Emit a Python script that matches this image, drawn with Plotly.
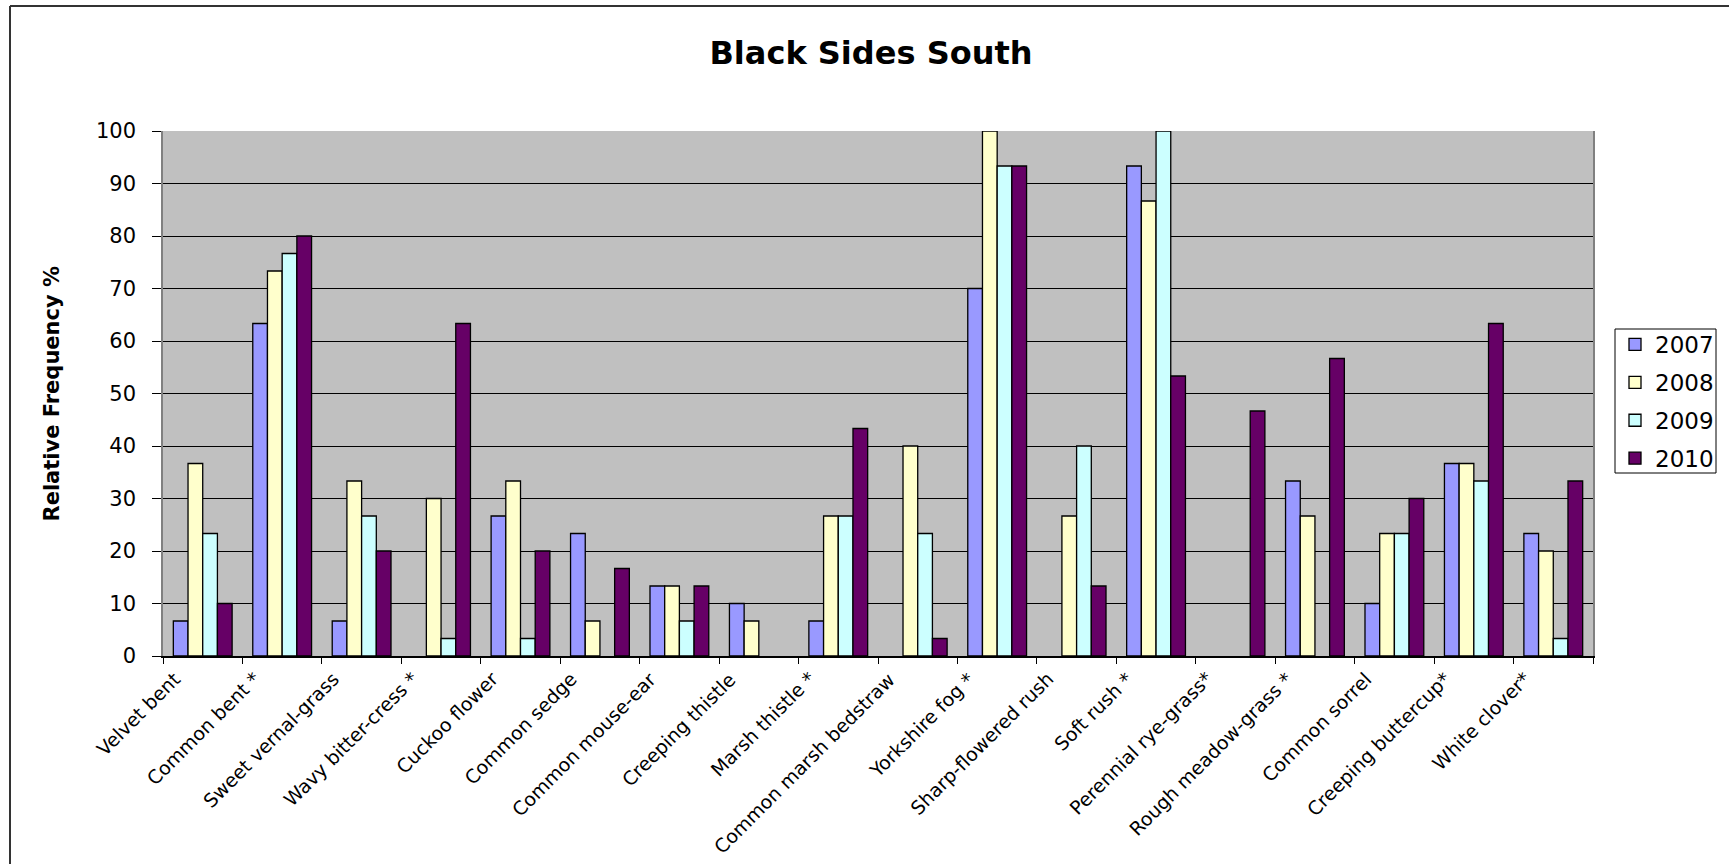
import plotly.graph_objects as go

# Species surveyed (x categories)
species = [
    "Velvet bent", "Common bent *", "Sweet vernal-grass", "Wavy bitter-cress *",
    "Cuckoo flower", "Common sedge", "Common mouse-ear", "Creeping thistle",
    "Marsh thistle *", "Common marsh bedstraw", "Yorkshire fog *",
    "Sharp-flowered rush", "Soft rush *", "Perennial rye-grass*",
    "Rough meadow-grass *", "Common sorrel", "Creeping buttercup*", "White clover*",
]

# Relative frequency (%) per survey year
freq_2007 = [6.67, 63.33, 6.67, 0, 26.67, 23.33, 13.33, 10, 6.67, 0, 70, 0, 93.33, 0, 33.33, 10, 36.67, 23.33]
freq_2008 = [36.67, 73.33, 33.33, 30, 33.33, 6.67, 13.33, 6.67, 26.67, 40, 100, 26.67, 86.67, 0, 26.67, 23.33, 36.67, 20]
freq_2009 = [23.33, 76.67, 26.67, 3.33, 3.33, 0, 6.67, 0, 26.67, 23.33, 93.33, 40, 100, 0, 0, 23.33, 33.33, 3.33]
freq_2010 = [10, 80, 20, 63.33, 20, 16.67, 13.33, 0, 43.33, 3.33, 93.33, 13.33, 53.33, 46.67, 56.67, 30, 63.33, 33.33]

years = ["2007", "2008", "2009", "2010"]
series = [freq_2007, freq_2008, freq_2009, freq_2010]
colors = ["#9999FF", "#FFFFCC", "#CCFFFF", "#660066"]

y_ticks = [0, 10, 20, 30, 40, 50, 60, 70, 80, 90, 100]

FONT = "DejaVu Sans"

# Plot-area geometry in pixels
W, H = 1729, 864
L, R, T, B = 163, 1593, 131, 656


def px_x(px):
    return (px - L) / (R - L)


def px_y(py):
    return (B - py) / (B - T)


fig = go.Figure()
for yr, vals, col in zip(years, series, colors):
    fig.add_trace(go.Bar(
        name=yr,
        x=species,
        # species not recorded that year get no bar at all
        y=[v if v > 0 else None for v in vals],
        legendgroup=yr,
        marker=dict(color=col, line=dict(color="black", width=1.3)),
    ))

# Rotated category labels below the axis
annotations = []
for i, name in enumerate(species):
    annotations.append(dict(
        x=i - 0.2, xref="x",
        y=0, yref="paper",
        yshift=-9,
        text=name, textangle=-45,
        xanchor="right", yanchor="top",
        showarrow=False,
        font=dict(family=FONT, size=19, color="black"),
    ))

# Vertical axis title
annotations.append(dict(
    x=px_x(51), xref="paper", y=0.5, yref="paper",
    text="<b>Relative Frequency %</b>", textangle=-90,
    xanchor="center", yanchor="middle", showarrow=False,
    font=dict(family=FONT, size=21, color="black"),
))

# Outer chart frame (top and left edges) and the legend box
frame = dict(color="#333333", width=2)
shapes = [
    dict(type="line", xref="paper", yref="paper",
         x0=px_x(10), x1=px_x(W + 5), y0=px_y(6), y1=px_y(6), line=frame),
    dict(type="line", xref="paper", yref="paper",
         x0=px_x(10), x1=px_x(10), y0=px_y(6), y1=px_y(H + 5), line=frame),
    dict(type="rect", xref="paper", yref="paper",
         x0=px_x(1615), x1=px_x(1716), y0=px_y(329), y1=px_y(473),
         line=dict(color="black", width=1), fillcolor="white", layer="below"),
]

fig.update_layout(
    width=W, height=H,
    margin=dict(l=L, r=W - R, t=T, b=H - B, autoexpand=False),
    paper_bgcolor="white",
    plot_bgcolor="#C0C0C0",
    barmode="group",
    bargap=0.26,
    bargroupgap=0,
    font=dict(family=FONT, color="black"),
    title=dict(
        text="<b>Black Sides South</b>",
        x=871 / W, xref="container", xanchor="center",
        y=1 - 53 / H, yref="container", yanchor="middle",
        font=dict(family=FONT, size=32, color="black"),
    ),
    legend=dict(
        x=px_x(1615), xanchor="left",
        y=px_y(323), yanchor="top",
        bgcolor="rgba(0,0,0,0)", borderwidth=0,
        font=dict(family=FONT, size=23, color="black"),
        traceorder="grouped", tracegroupgap=5,
        itemwidth=30,
    ),
    annotations=annotations,
    shapes=shapes,
)

fig.update_xaxes(
    type="category",
    range=[-0.5, len(species) - 0.5],
    showticklabels=False,
    ticks="outside", tickson="boundaries", ticklen=6,
    tickcolor="black", tickwidth=1.3,
    showline=True, linecolor="black", linewidth=1.5,
    showgrid=False, zeroline=False,
)

fig.update_yaxes(
    range=[0, 100],
    tickvals=y_ticks,
    ticks="outside", ticklen=9, tickcolor="black", tickwidth=1.3,
    ticklabelstandoff=12,
    tickfont=dict(family=FONT, size=21, color="black"),
    showgrid=True, gridcolor="black", gridwidth=1,
    showline=True, mirror=True, linecolor="#808080", linewidth=1.5,
    zeroline=False,
)

fig.write_html("out.html")
